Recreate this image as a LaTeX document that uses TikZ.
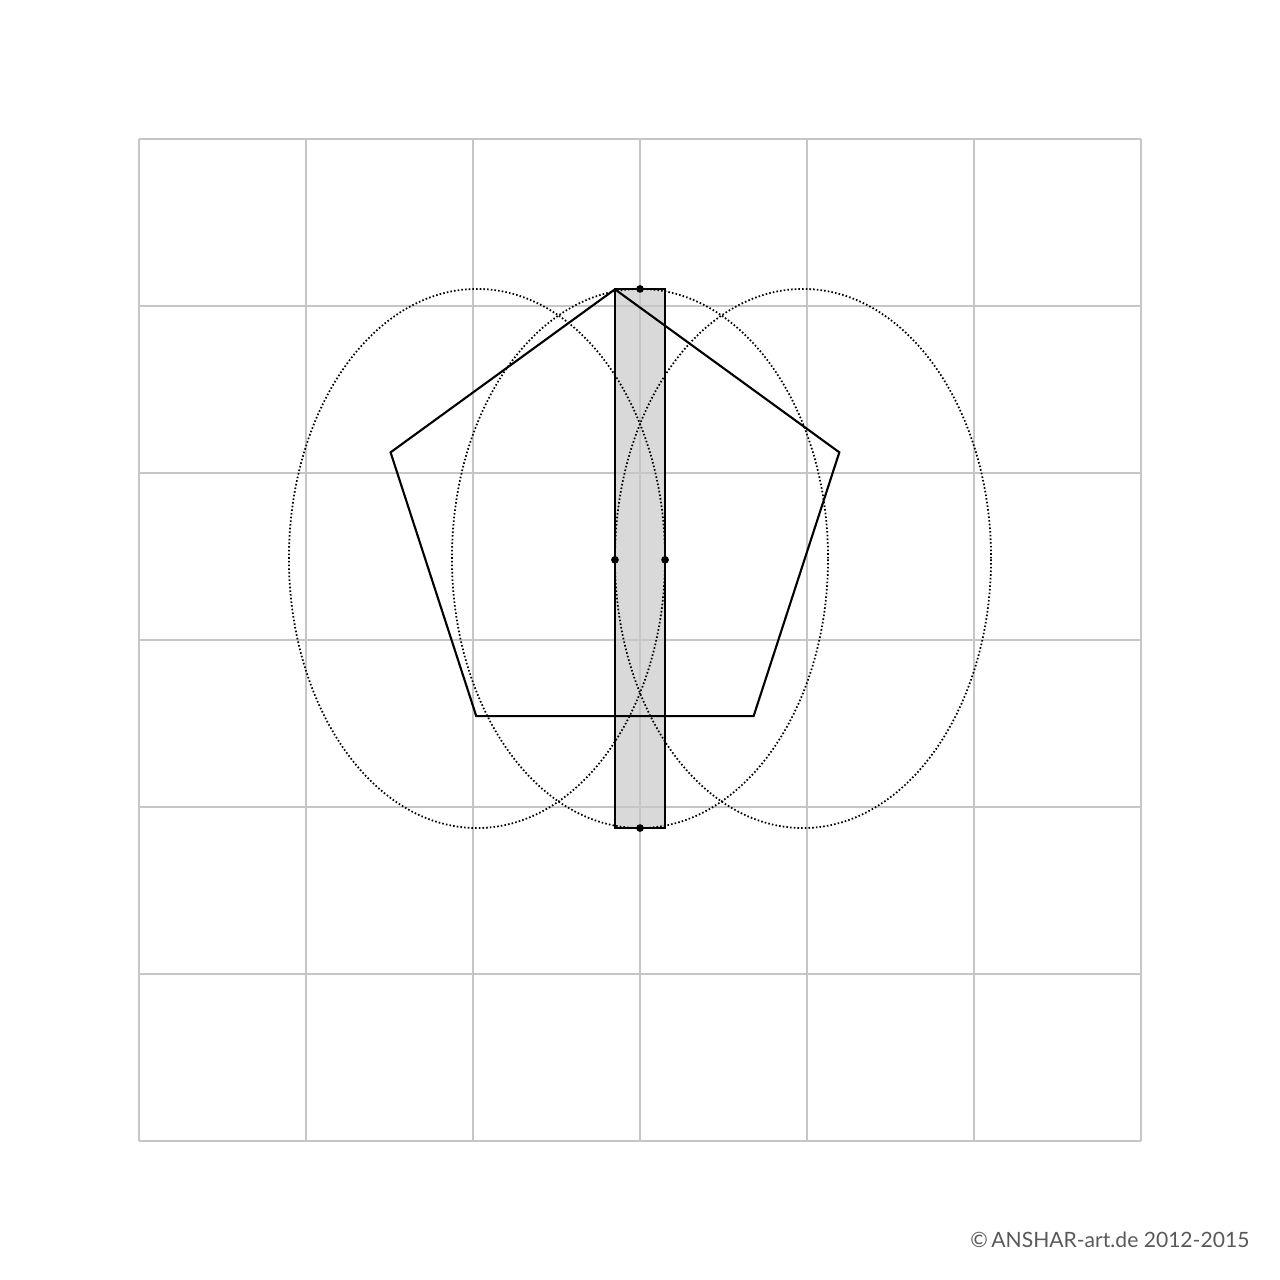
\documentclass[tikz,border=0pt]{standalone}
\usepackage{fontspec}
\setmainfont{Lato}
\usepackage{tikz}
\usetikzlibrary{calc}

\begin{document}
\begin{tikzpicture}[x=1.67cm,y=1.67cm,
  gridline/.style={gray!45,line width=0.5pt},
  guide/.style={line width=0.5pt,dash pattern=on 0.45pt off 0.6pt},
  dot/.style={fill=black},
  edge/.style={line width=0.6pt}]
\useasboundingbox (-0.832,-0.832) rectangle (6.832,6.832);

% Gray strip
\fill[gray!30] (2.85,1.874) rectangle (3.15,5.102);

% Grid
\draw[gridline,step={(1,1)}] (0,0) grid (6,6);

% Guide ellipses
\draw[guide] (2.024,3.488) ellipse [x radius=1.126,y radius=1.614];
\draw[guide] (3,3.488) ellipse [x radius=1.126,y radius=1.614];
\draw[guide] (3.976,3.488) ellipse [x radius=1.126,y radius=1.614];

% Strip outline
\draw[edge] (2.85,1.874) rectangle (3.15,5.102);

% Pentagon
\coordinate (C) at (2.85,3.687);
\draw[edge] (C) ++(90:1.4126)
  \foreach \a in {162,234,306,18} { -- ($(C)+(\a:1.4126)$) } -- cycle;

% Points
\foreach \p in {(3,5.102),(2.85,3.48),(3.15,3.48),(3,1.874)}
  \fill[dot] \p circle (1.1pt);

% Copyright
\node[anchor=base east,inner sep=0pt,text=black!65,font=\fontsize{6}{7}\selectfont]
  (copy) at (6.653,-0.635) {©\,ANSHAR-art.de 2012-2015};
\end{tikzpicture}
\end{document}
